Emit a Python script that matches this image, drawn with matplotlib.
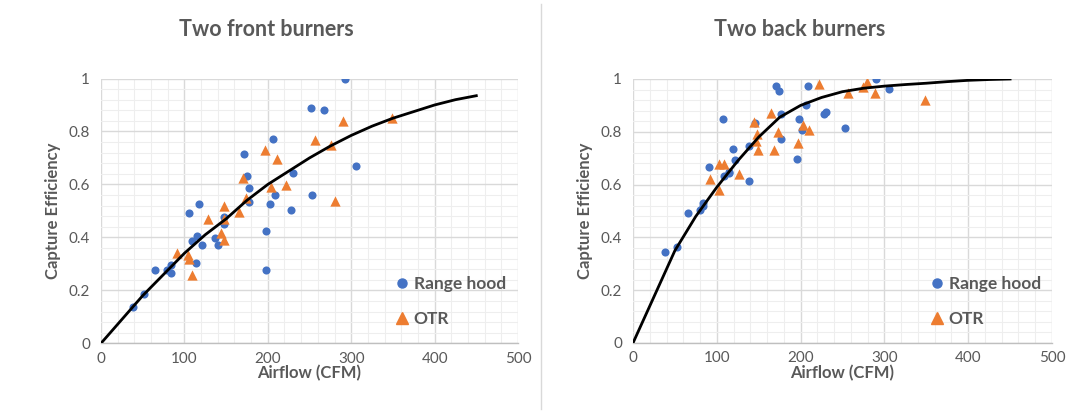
import matplotlib
matplotlib.use("Agg")
import matplotlib.pyplot as plt
from matplotlib.ticker import MultipleLocator, FixedLocator
from matplotlib.lines import Line2D

plt.rcParams['font.family'] = ['Lato', 'DejaVu Sans']

# ---------------- data ----------------
front_titles = "Two front burners"
back_titles = "Two back burners"

front_hood_x = [292, 252, 267, 206, 171, 306, 230, 175, 177, 209, 253, 118, 178, 203, 228, 106,
                147, 147, 198, 115, 109, 121, 137, 140, 114, 84, 79, 65, 84, 198, 52, 38]
front_hood_y = [1.0, 0.89, 0.88, 0.77, 0.715, 0.67, 0.645, 0.63, 0.585, 0.56, 0.56, 0.525, 0.535,
                0.525, 0.505, 0.493, 0.478, 0.45, 0.424, 0.406, 0.387, 0.372, 0.396, 0.373, 0.304,
                0.295, 0.277, 0.275, 0.266, 0.275, 0.186, 0.136]
front_otr_x = [349, 290, 256, 276, 197, 211, 170, 204, 222, 174, 280, 148, 165, 128, 147, 144, 148,
               91, 104, 105, 109]
front_otr_y = [0.85, 0.84, 0.767, 0.747, 0.73, 0.697, 0.626, 0.589, 0.597, 0.547, 0.537, 0.518,
               0.494, 0.469, 0.468, 0.415, 0.39, 0.34, 0.333, 0.317, 0.258]
front_trend_x = [0, 25, 50, 75, 100, 125, 150, 175, 200, 225, 250, 275, 300, 325, 350, 375, 400, 425, 450]
front_trend_y = [0, 0.09, 0.18, 0.26, 0.34, 0.41, 0.47, 0.54, 0.60, 0.65, 0.70, 0.745, 0.785, 0.82,
                 0.85, 0.875, 0.90, 0.92, 0.935]

back_hood_x = [290, 171, 174, 209, 305, 206, 107, 177, 230, 228, 198, 146, 253, 202, 177, 138, 119,
               122, 196, 91, 115, 109, 114, 139, 84, 83, 80, 66, 52, 38]
back_hood_y = [1.0, 0.973, 0.955, 0.973, 0.963, 0.903, 0.847, 0.866, 0.876, 0.866, 0.847, 0.832,
               0.816, 0.807, 0.773, 0.745, 0.735, 0.693, 0.696, 0.665, 0.649, 0.633, 0.645, 0.615,
               0.529, 0.519, 0.504, 0.494, 0.362, 0.345]
back_otr_x = [279, 275, 222, 256, 289, 349, 165, 144, 203, 210, 173, 148, 147, 197, 149, 168, 103,
              108, 127, 92, 103]
back_otr_y = [0.99, 0.971, 0.981, 0.948, 0.948, 0.92, 0.87, 0.838, 0.826, 0.807, 0.80, 0.79, 0.766,
              0.759, 0.731, 0.731, 0.677, 0.677, 0.64, 0.62, 0.58]
back_trend_x = [0, 25, 50, 75, 100, 125, 150, 175, 200, 225, 250, 275, 300, 325, 350, 375, 400, 425, 450]
back_trend_y = [0, 0.175, 0.35, 0.48, 0.59, 0.69, 0.78, 0.855, 0.90, 0.93, 0.952, 0.965, 0.973,
                0.979, 0.984, 0.99, 0.995, 0.998, 1.0]

x_ticks = [0, 100, 200, 300, 400, 500]
y_ticks = [0, 0.2, 0.4, 0.6, 0.8, 1.0]
y_tick_labels = ['0', '0.2', '0.4', '0.6', '0.8', '1']
series_labels = ['Range hood', 'OTR']
x_label = 'Airflow (CFM)'
y_label = 'Capture Efficiency'

# ---------------- style ----------------
BLUE = '#4472C4'
ORANGE = '#ED7D31'
TXT = '#595959'
W, H = 1072, 413

fig = plt.figure(figsize=(W / 100, H / 100), dpi=100)


def px_axes(l, r, t, b):
    return [l / W, 1 - b / H, (r - l) / W, (b - t) / H]


def make_panel(rect, title, title_x, hx, hy, ox, oy, tx, ty, leg_xy):
    ax = fig.add_axes(rect)
    ax.set_xlim(0, 500)
    ax.set_ylim(0, 1)
    ax.xaxis.set_major_locator(FixedLocator(x_ticks))
    ax.yaxis.set_major_locator(FixedLocator(y_ticks))
    ax.set_yticklabels(y_tick_labels)
    ax.xaxis.set_minor_locator(MultipleLocator(20))
    ax.yaxis.set_minor_locator(MultipleLocator(0.04))
    ax.grid(which='minor', color='#EEEEEE', linewidth=0.8, zorder=0)
    ax.grid(which='major', color='#D9D9D9', linewidth=1.0, zorder=0)
    ax.set_axisbelow(True)
    for s in ['top', 'right', 'left']:
        ax.spines[s].set_visible(False)
    ax.spines['bottom'].set_color('#BFBFBF')
    ax.spines['bottom'].set_linewidth(1.0)
    ax.tick_params(which='both', length=0, labelsize=11, labelcolor=TXT)
    ax.tick_params(axis='y', pad=8)
    ax.tick_params(axis='x', pad=6)
    ax.set_xlabel(x_label, fontsize=12, fontweight='bold', color=TXT)
    ax.xaxis.set_label_coords(0.5, -0.083)
    ax.set_ylabel(y_label, fontsize=12, fontweight='bold', color=TXT)
    ax.yaxis.set_label_coords(-0.095, 0.5)
    fig.text(title_x / W, 1 - 30 / H, title, fontsize=15.5, fontweight='bold', color=TXT,
             ha='center', va='center')

    ax.scatter(hx, hy, s=34, marker='o', color=BLUE, zorder=3, linewidths=0)
    ax.scatter(ox, oy, s=55, marker='^', color=ORANGE, zorder=3, linewidths=0)
    ax.plot(tx, ty, color='black', linewidth=2.0, zorder=4)

    handles = [Line2D([], [], marker='o', linestyle='none', color=BLUE, markersize=6.5),
               Line2D([], [], marker='^', linestyle='none', color=ORANGE, markersize=8)]
    leg = ax.legend(handles, series_labels, loc='center left',
                    bbox_to_anchor=(leg_xy[0] / W, 1 - leg_xy[1] / H),
                    bbox_transform=fig.transFigure, frameon=False,
                    handlelength=0.8, handletextpad=0.3, labelspacing=1.05,
                    borderpad=0, prop={'size': 12.5, 'weight': 'bold'})
    for t in leg.get_texts():
        t.set_color(TXT)
    return ax


make_panel(px_axes(101, 518, 78.5, 343.3), front_titles, 266,
           front_hood_x, front_hood_y, front_otr_x, front_otr_y,
           front_trend_x, front_trend_y, (386, 301.5))
make_panel(px_axes(633, 1052, 79, 343), back_titles, 800,
           back_hood_x, back_hood_y, back_otr_x, back_otr_y,
           back_trend_x, back_trend_y, (921, 301.5))

# separator between the two charts
fig.add_artist(Line2D([541 / W, 541 / W], [0.01, 0.99], color='#D9D9D9', linewidth=1.0))

fig.savefig('out.png', dpi=100)
